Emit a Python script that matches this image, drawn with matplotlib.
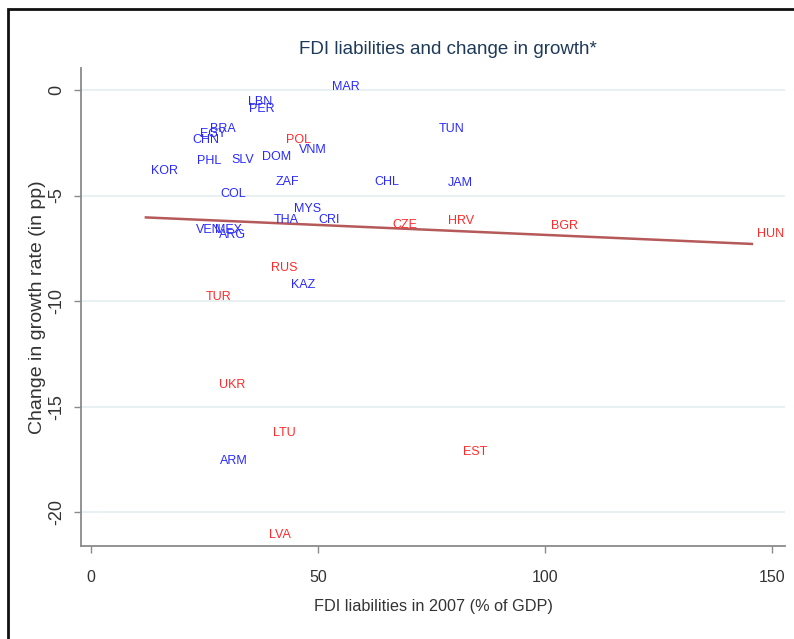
import numpy as np
import matplotlib
matplotlib.use("Agg")
import matplotlib.pyplot as plt
from matplotlib.patches import Rectangle

plt.rcParams['font.family'] = ['Liberation Sans', 'DejaVu Sans']

# country codes, FDI liabilities 2007 (% of GDP), change in growth (pp)
codes = ['MAR', 'LBN', 'PER', 'BRA', 'EGY', 'CHN', 'POL', 'VNM', 'TUN', 'PHL',
         'SLV', 'DOM', 'KOR', 'ZAF', 'CHL', 'JAM', 'COL', 'MYS', 'THA', 'CRI',
         'CZE', 'HRV', 'BGR', 'HUN', 'VEN', 'MEX', 'ARG', 'RUS', 'KAZ', 'TUR',
         'UKR', 'LTU', 'ARM', 'EST', 'LVA']
fdi = [51.8, 33.3, 33.5, 24.9, 22.9, 21.1, 41.8, 44.5, 75.3, 22.2,
       29.7, 36.5, 12.1, 39.4, 61.2, 77.5, 27.3, 43.4, 39.0, 48.9,
       65.2, 77.5, 100.2, 145.6, 21.8, 26.2, 26.9, 38.5, 42.9, 24.0,
       26.9, 38.8, 27.3, 80.8, 37.9]
growth = [0.19, -0.52, -0.85, -1.80, -2.04, -2.32, -2.32, -2.80, -1.80, -3.32,
          -3.27, -3.13, -3.79, -4.31, -4.31, -4.36, -4.88, -5.55, -6.11, -6.07,
          -6.35, -6.16, -6.40, -6.78, -6.59, -6.59, -6.82, -8.39, -9.15, -9.76,
          -13.9, -16.2, -17.5, -17.1, -21.0]
# emerging Europe shown in red
europe = {'POL', 'CZE', 'HRV', 'BGR', 'HUN', 'RUS', 'TUR', 'UKR', 'LTU', 'EST', 'LVA'}

xticks = [0, 50, 100, 150]
yticks = [0, -5, -10, -15, -20]

fig = plt.figure(figsize=(7.94, 6.39), dpi=100)
ax = fig.add_axes([0.102, 0.1455, 0.8867, 0.7481])

for yt in yticks:
    ax.axhline(yt, color='#e4eef0', lw=1.2, zorder=0)

# linear fit
x = np.array(fdi)
y = np.array(growth)
b, a = np.polyfit(x, y, 1)
xs = np.array([x.min(), x.max()])
ax.plot(xs, a + b * xs, color='#a83c3c', lw=1.8, alpha=0.85, zorder=1)

for c, xi, yi in zip(codes, fdi, growth):
    col = '#ff2a2a' if c in europe else '#2a2aff'
    ax.annotate(c, (xi, yi), xytext=(4, -1), textcoords='offset points',
                ha='left', va='center', fontsize=9, color=col, zorder=3)

ax.set_xlim(-2.2, 152.9)
ax.set_ylim(-21.6, 1.04)
ax.set_xticks(xticks)
ax.set_yticks(yticks)
ax.set_yticklabels([str(t) for t in yticks], rotation=90, va='center', fontsize=13)

for s in ['top', 'right']:
    ax.spines[s].set_visible(False)
for s in ['left', 'bottom']:
    ax.spines[s].set_color('#8a8a8a')
    ax.spines[s].set_linewidth(1.3)
ax.tick_params(colors='#8a8a8a', length=5, width=1, labelcolor='#333333')
ax.tick_params(axis='x', pad=12, labelsize=11.5)
ax.tick_params(axis='y', pad=6)

ax.set_xlabel('FDI liabilities in 2007 (% of GDP)', fontsize=11.7, color='#333333', labelpad=10)
ax.set_ylabel('Change in growth rate (in pp)', fontsize=14, color='#333333')
ax.yaxis.set_label_coords(-0.05, 0.5)
fig.text(0.564, 0.922, 'FDI liabilities and change in growth*', ha='center', va='center',
         fontsize=13.5, color='#1e3a5a')

# outer frame (cropped on right and bottom)
fig.patches.append(Rectangle((8 / 794, -0.1), 1.2, 1.1 - 9 / 639, transform=fig.transFigure,
                             fill=False, edgecolor='#111111', lw=2, clip_on=False))

fig.savefig('out.png', dpi=100)
